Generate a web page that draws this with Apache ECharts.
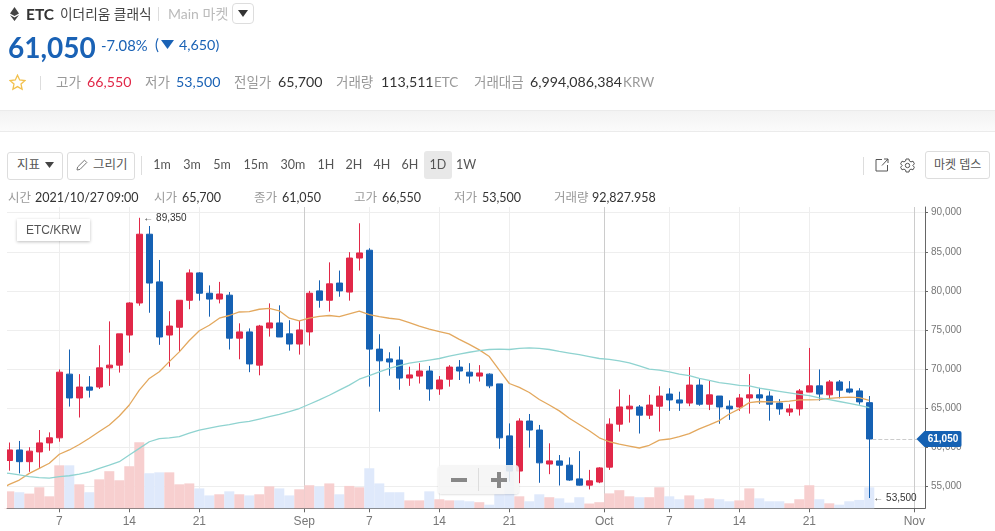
<!DOCTYPE html>
<html>
<head>
<meta charset="utf-8">
<title>ETC/KRW</title>
<script src="https://cdn.jsdelivr.net/npm/echarts@6/dist/echarts.min.js"></script>
<style>
html, body { margin: 0; padding: 0; background: #fff; overflow: hidden; }
body { width: 995px; height: 531px; position: relative; font-family: Lato, "Noto Sans CJK KR", sans-serif; }
#chart { position: absolute; left: 0; top: 0; width: 995px; height: 531px; }
.t { position: absolute; white-space: nowrap; line-height: 16px; }
.lab { color: #999; font-size: 13.5px; }
.val { color: #333; font-size: 14.2px; }
.inf { font-size: 12.5px; }
.box { position: absolute; box-sizing: border-box; border: 1px solid #ddd; border-radius: 3px; background: #fff; }
.tf { position: absolute; top: 157px; width: 30px; margin-left: -15px; text-align: center; font-size: 12.5px; line-height: 16px; color: #555; }
</style>
</head>
<body>
<div id="chart"></div>

<!-- bars on a value axis hang half a band over the grid edge -->
<div style="position:absolute;left:0;top:207px;width:7px;height:301px;background:#fff"></div>

<svg style="position:absolute;left:10px;top:7px" width="9" height="14" viewBox="0 0 9 14"><path d="M4.5 0L9 6.5 4.5 9 0 6.5zM0 8l4.5 2.6L9 8l-4.5 6z" fill="#444"/></svg>
<div class="t" style="left:26px;top:6px;font-size:15.5px;font-weight:700;color:#333">ETC</div>
<div class="t" style="left:60px;top:6px;font-size:13.7px;color:#444">이더리움 클래식</div>
<div style="position:absolute;left:158px;top:7px;width:1px;height:14px;background:#ddd"></div>
<div class="t" style="left:168px;top:6px;font-size:14px;color:#bbb">Main 마켓</div>
<div class="box" style="left:232px;top:3px;width:22px;height:21px;border-radius:4px"></div>
<svg style="position:absolute;left:238px;top:10px" width="10" height="7"><path d="M0 0H10L5 7z" fill="#333"/></svg>

<div class="t" style="left:8px;top:30px;font-size:28px;line-height:34px;font-weight:700;color:#1a62b5">61,050</div>
<div class="t" style="left:101px;top:37px;font-size:14.8px;color:#1a62b5">-7.08%</div>
<div class="t" style="left:155px;top:37px;font-size:14.5px;color:#1a62b5">(</div>
<svg style="position:absolute;left:161px;top:40px" width="13" height="9"><path d="M0 0H13L6.5 9z" fill="#1a62b5"/></svg>
<div class="t" style="left:179px;top:37px;font-size:14.3px;color:#1a62b5">4,650)</div>

<svg style="position:absolute;left:9px;top:74px" width="17" height="17" viewBox="0 0 17 17"><path d="M8.5 1.2l2.2 4.8 5.2.6-3.9 3.5 1.1 5.2-4.6-2.7-4.6 2.7 1.1-5.2L1.1 6.6l5.2-.6z" fill="#fff" stroke="#f2c14e" stroke-width="1.3"/></svg>
<div style="position:absolute;left:40px;top:76px;width:1px;height:14px;background:#ddd"></div>
<div class="t lab" style="left:56px;top:74px">고가</div>
<div class="t val" style="left:87px;top:74px;color:#e12848">66,550</div>
<div class="t lab" style="left:145px;top:74px">저가</div>
<div class="t val" style="left:176px;top:74px;color:#1a62b5">53,500</div>
<div class="t lab" style="left:234px;top:74px">전일가</div>
<div class="t val" style="left:278px;top:74px">65,700</div>
<div class="t lab" style="left:336px;top:74px">거래량</div>
<div class="t val" style="left:381px;top:74px">113,511</div>
<div class="t lab" style="left:434px;top:74px">ETC</div>
<div class="t lab" style="left:474px;top:74px">거래대금</div>
<div class="t val" style="left:530px;top:74px">6,994,086,384</div>
<div class="t lab" style="left:623px;top:74px">KRW</div>

<div style="position:absolute;left:0;top:110px;width:995px;height:22px;box-sizing:border-box;background:linear-gradient(#f3f3f3,#fbfbfb);border-top:1px solid #ebebeb;border-bottom:1px solid #ebebeb"></div>

<div class="box" style="left:7px;top:152px;width:56px;height:28px"></div>
<div class="t" style="left:17px;top:157px;font-size:12.5px;color:#555">지표</div>
<svg style="position:absolute;left:45px;top:162px" width="9" height="6"><path d="M0 0H9L4.5 6z" fill="#444"/></svg>
<div class="box" style="left:67px;top:152px;width:68px;height:28px"></div>
<svg style="position:absolute;left:76px;top:159px" width="12" height="12" viewBox="0 0 12 12"><path d="M1 11l.6-3L8.5 1.2l2.3 2.3L4 10.4z" fill="none" stroke="#777"/></svg>
<div class="t" style="left:93px;top:157px;font-size:12.5px;color:#555">그리기</div>
<div style="position:absolute;left:141px;top:156px;width:1px;height:19px;background:#ddd"></div>
<div style="position:absolute;left:424px;top:151px;width:28px;height:28px;background:#e8e8e8;border-radius:3px"></div>
<div class="tf" style="left:162px">1m</div>
<div class="tf" style="left:192px">3m</div>
<div class="tf" style="left:222px">5m</div>
<div class="tf" style="left:256px">15m</div>
<div class="tf" style="left:293px">30m</div>
<div class="tf" style="left:326px">1H</div>
<div class="tf" style="left:354px">2H</div>
<div class="tf" style="left:382px">4H</div>
<div class="tf" style="left:410px">6H</div>
<div class="tf" style="left:438px">1D</div>
<div class="tf" style="left:466px">1W</div>

<div style="position:absolute;left:863px;top:157px;width:1px;height:18px;background:#ddd"></div>
<svg style="position:absolute;left:875px;top:158px" width="14" height="14" viewBox="0 0 14 14"><path d="M7 1.5H1V13H12.5V7M7 7.5L13 1M9 1H13V5" fill="none" stroke="#555"/></svg>
<svg style="position:absolute;left:900px;top:158px" width="15" height="15" viewBox="0 0 15 15"><circle cx="7.5" cy="7.5" r="2.2" fill="none" stroke="#555"/><path d="M6 1H9L9.4 3 11 3.9 13 3.2 14.4 5.8 12.8 7.5 14.4 9.2 13 11.8 11 11.1 9.4 12 9 14H6L5.6 12 4 11.1 2 11.8 .6 9.2 2.2 7.5 .6 5.8 2 3.2 4 3.9 5.6 3z" fill="none" stroke="#555"/></svg>
<div class="box" style="left:925px;top:151px;width:65px;height:28px"></div>
<div class="t" style="left:934px;top:157px;font-size:12px;color:#555">마켓 뎁스</div>

<div class="t lab inf" style="left:8px;top:190px">시간</div>
<div class="t val inf" style="left:35px;top:190px;word-spacing:-1px">2021/10/27 09:00</div>
<div class="t lab inf" style="left:154px;top:190px">시가</div>
<div class="t val inf" style="left:182px;top:190px">65,700</div>
<div class="t lab inf" style="left:254px;top:190px">종가</div>
<div class="t val inf" style="left:282px;top:190px">61,050</div>
<div class="t lab inf" style="left:354px;top:190px">고가</div>
<div class="t val inf" style="left:382px;top:190px">66,550</div>
<div class="t lab inf" style="left:454px;top:190px">저가</div>
<div class="t val inf" style="left:482px;top:190px">53,500</div>
<div class="t lab inf" style="left:554px;top:190px">거래량</div>
<div class="t val inf" style="left:592px;top:190px">92,827.958</div>

<div style="position:absolute;left:17px;top:219px;width:73px;height:22px;background:#fff;box-shadow:0 1px 3px rgba(0,0,0,.25);font:12px/22px 'Liberation Sans',sans-serif;color:#555;text-align:center">ETC/KRW</div>

<div style="position:absolute;left:438px;top:465px;width:81px;height:29px;background:rgba(245,245,245,.88);border-radius:4px;box-shadow:0 1px 2px rgba(0,0,0,.12)">
  <div style="position:absolute;left:40px;top:3px;width:1px;height:23px;background:#ddd"></div>
  <div style="position:absolute;left:13px;top:13px;width:16px;height:4px;background:#888"></div>
  <div style="position:absolute;left:53px;top:13px;width:16px;height:4px;background:#888"></div>
  <div style="position:absolute;left:59px;top:7px;width:4px;height:16px;background:#888"></div>
</div>

<script>
var dates = ['8/2','8/3','8/4','8/5','8/6','8/7','8/8','8/9','8/10','8/11','8/12','8/13','8/14','8/15','8/16','8/17','8/18','8/19','8/20','8/21','8/22','8/23','8/24','8/25','8/26','8/27','8/28','8/29','8/30','8/31',
    '9/1','9/2','9/3','9/4','9/5','9/6','9/7','9/8','9/9','9/10','9/11','9/12','9/13','9/14','9/15','9/16','9/17','9/18','9/19','9/20','9/21','9/22','9/23','9/24','9/25','9/26','9/27','9/28','9/29','9/30',
    '10/1','10/2','10/3','10/4','10/5','10/6','10/7','10/8','10/9','10/10','10/11','10/12','10/13','10/14','10/15','10/16','10/17','10/18','10/19','10/20','10/21','10/22','10/23','10/24','10/25','10/26','10/27'];
var opens = [58300,59650,58150,59400,60550,61200,69350,66300,67700,67700,70150,70500,74350,78450,87250,81150,74350,
    75350,78800,82300,79700,78950,79450,73950,74750,70500,75250,75900,74500,73200,74750,80000,78800,81000,
    79850,84200,85200,72550,71300,71150,68850,69100,69750,67450,68700,70250,69600,69100,69350,68100,61450,
    56950,63350,62200,57850,58250,57700,55950,55150,55550,57450,62950,64900,65150,64100,65250,66800,66050,
    65650,67950,65500,66550,65250,65150,66300,66700,66550,65650,64500,64900,67050,67850,66700,68350,67450,
    67200,65700];
var closes = [59650,58150,59500,60550,61200,69600,66300,67700,67300,70150,70500,74500,78450,87250,81000,74100,75500,
    78800,82300,79700,78950,79600,73950,74750,70650,75500,75900,74100,73200,75000,79700,78800,80900,80000,
    84200,84850,72550,71050,70900,68850,69250,69750,67450,68600,70250,69750,69100,69500,67850,61200,56950,
    63350,62200,58000,58250,57700,55800,55150,55700,57350,62950,65150,65250,64100,65400,66550,66050,65650,
    67950,65500,66700,65150,64900,66300,66700,66300,65500,64900,64900,67200,67850,66800,68350,67300,67050,
    65800,61050];
var lows = [57000,56650,56850,57300,59550,60700,65200,63800,66350,67450,67850,69550,72100,78100,77200,73100,70300,
    72200,77650,78750,76700,78400,72500,71250,69600,69200,74150,74100,72350,71850,73000,77850,77350,79250,
    78750,82600,67750,64550,69150,67350,67850,68150,65950,66700,67750,68600,68150,68400,67550,59800,55600,
    55400,59950,55450,56550,55100,55700,55100,54600,55400,57100,62000,63150,61750,63600,62000,64650,64650,
    65250,65300,64750,63000,63500,64650,64300,65550,63400,64150,64000,64050,67050,65950,66250,66250,66900,
    65450,53500];
var highs = [60600,60800,60000,62200,61900,69950,72500,69350,69100,73050,76100,74500,78550,89350,88300,83950,77400,
    78800,82750,82400,80700,81150,79850,75850,75200,75650,78400,78150,76250,76150,80000,81350,83650,82600,
    84950,88650,85450,74450,72150,72900,70300,70750,70400,69100,70500,71150,70750,70500,69450,68100,63050,
    63700,64250,62850,60500,59000,58700,59500,57100,57450,63700,67400,66700,65400,66700,67800,67550,67100,
    70250,68700,68600,66550,66000,66800,69350,67600,67150,66150,65500,67450,72700,69950,68600,68600,68450,
    67550,66550];
// volume in thousands of ETC
var volumes = [75,71,65,93,53,190,190,106,71,128,164,124,186,292,155,159,159,
    106,110,88,57,62,75,62,57,62,97,88,57,84,102,97,110,62,
    99,93,177,110,71,71,35,35,75,40,35,35,31,27,16,62,187,
    53,31,62,49,44,25,49,21,27,66,80,53,49,49,93,53,40,
    57,40,44,40,31,35,88,44,31,31,22,40,102,40,22,16,31,
    37,92.8];
var maShort = [55250,55800,56650,57300,57950,59100,59650,60350,61150,62000,62850,64000,65400,67300,68800,69650,70950,
    72200,73650,74900,75600,76500,76850,77300,77350,77650,77750,77450,76500,76150,76500,76750,76850,76700,
    77050,77400,76950,76700,76500,76350,75950,75500,75100,74800,74500,73800,73150,72450,71600,69850,68150,
    67650,67000,66100,65400,64650,63700,62900,62100,61200,60700,60400,60150,59900,60250,60900,61050,61350,
    61750,62350,62850,63400,64250,64900,65700,65850,65800,65800,65900,66050,66050,66100,66250,66350,66400,
    66350,66000];
var maLong = [56650,56450,56250,56100,56050,56250,56350,56550,56850,57300,57700,58150,59000,59850,60700,61100,61200,
    61350,61800,62200,62450,62700,62900,63150,63300,63600,63900,64200,64550,64950,65500,66050,66650,67300,
    67950,68700,69150,69650,70100,70450,70750,70950,71150,71350,71650,71900,72150,72350,72500,72550,72500,
    72650,72700,72650,72500,72250,72050,71850,71600,71350,71250,71050,70800,70400,70000,69850,69650,69350,
    69150,68800,68550,68250,68100,67900,67850,67550,67350,67150,66950,66750,66600,66300,66100,65850,65600,
    65350,65050];
// the averages come in from the day before the first candle, cut by the left edge
var maShortPrev = 54500;
var maLongPrev = 56750;

// x positions are day indexes counted from 8/2, month ticks sit between two candles
var tickDays = [5, 12, 19, 29.5, 36, 43, 50, 59.5, 66, 73, 80, 90.5];
var tickLabels = ['7', '14', '21', 'Sep', '7', '14', '21', 'Oct', '7', '14', '21', 'Nov'];
var priceTicks = [55000, 60000, 65000, 70000, 75000, 80000, 85000, 90000];

var RED = '#e12848', BLUE = '#1561b3';
var xMin = -0.23, xMax = 91.57;
var lastIdx = dates.length - 1;

function comma(v) {
    return String(v).replace(/\B(?=(\d{3})+$)/g, ',');
}

function lineData(values, prev) {
    var rows = [[-1, prev]];
    values.forEach(function (v, i) {
        rows.push([i, v]);
    });
    return rows;
}

var chart = echarts.init(document.getElementById('chart'), null, {renderer: 'canvas'});
chart.setOption({
    animation: false,
    grid: {left: 7, top: 207, width: 918, height: 301.3},
    xAxis: {
        type: 'value',
        min: xMin,
        max: xMax,
        axisLine: {onZero: false, lineStyle: {color: '#666'}},
        axisTick: {customValues: tickDays, length: 4, lineStyle: {color: '#666'}},
        axisLabel: {
            customValues: tickDays,
            color: '#777',
            fontSize: 12,
            fontFamily: 'Liberation Sans',
            margin: 7,
            formatter: function (v) {
                return tickLabels[tickDays.indexOf(v)];
            }
        },
        splitLine: {show: true, lineStyle: {color: ['#eeeeee', '#eeeeee', '#eeeeee', '#cccccc'], width: 1}}
    },
    yAxis: [
        {
            type: 'value',
            position: 'right',
            min: 52186,
            max: 90730,
            axisLine: {show: true, onZero: false, lineStyle: {color: '#666'}},
            axisTick: {show: true, customValues: priceTicks, length: 3, lineStyle: {color: '#666'}},
            axisLabel: {
                customValues: priceTicks,
                color: '#777',
                fontSize: 10,
                fontFamily: 'Liberation Sans',
                margin: 6,
                formatter: comma
            },
            splitLine: {show: true, lineStyle: {color: '#eeeeee', width: 1}}
        },
        {type: 'value', min: 0, max: 1332, show: false}
    ],
    series: [
        {
            type: 'bar',
            yAxisIndex: 1,
            barWidth: 10,
            z: 1,
            data: dates.map(function (d, i) {
                return {
                    value: [i, volumes[i]],
                    itemStyle: {color: closes[i] >= opens[i] ? '#f7cfcf' : '#dfe9fb'}
                };
            })
        },
        {
            type: 'candlestick',
            barWidth: 6,
            z: 3,
            encode: {x: 0, y: [1, 2, 3, 4]},
            itemStyle: {color: RED, color0: BLUE, borderColor: RED, borderColor0: BLUE, borderWidth: 1},
            data: dates.map(function (d, i) {
                return [i, opens[i], closes[i], lows[i], highs[i]];
            }),
            markLine: {
                silent: true,
                symbol: 'none',
                label: {show: false},
                lineStyle: {color: '#cccccc', type: 'dashed', width: 1},
                data: [[{coord: [lastIdx + 0.3, closes[lastIdx]]}, {coord: [90.8, closes[lastIdx]]}]]
            },
            markPoint: {
                silent: true,
                data: [
                    {
                        coord: [13, highs[13]],
                        symbolSize: 0,
                        label: {
                            show: true, position: 'right', distance: 4, formatter: '← ' + comma(highs[13]),
                            color: '#333', fontSize: 10, fontFamily: 'Liberation Sans'
                        }
                    },
                    {
                        coord: [lastIdx, lows[lastIdx]],
                        symbolSize: 0,
                        label: {
                            show: true, position: 'right', distance: 4, formatter: '← ' + comma(lows[lastIdx]),
                            color: '#333', fontSize: 10, fontFamily: 'Liberation Sans'
                        }
                    },
                    {
                        coord: [xMax, closes[lastIdx]],
                        symbol: 'path://M8 0H43Q45 0 45 2V14Q45 16 43 16H8L0 8Z',
                        symbolKeepAspect: false,
                        symbolSize: [45, 16],
                        symbolOffset: [14, 0],
                        itemStyle: {color: BLUE},
                        label: {
                            show: true, position: 'inside', offset: [4, 0], formatter: comma(closes[lastIdx]),
                            color: '#fff', fontSize: 10, fontWeight: 'bold', fontFamily: 'Liberation Sans'
                        }
                    }
                ]
            }
        },
        {
            type: 'line',
            z: 4,
            symbol: 'none',
            lineStyle: {color: '#e3a85e', width: 1.3},
            data: lineData(maShort, maShortPrev)
        },
        {
            type: 'line',
            z: 4,
            symbol: 'none',
            lineStyle: {color: '#8fd3d0', width: 1.3},
            data: lineData(maLong, maLongPrev)
        }
    ]
});
</script>
</body>
</html>
